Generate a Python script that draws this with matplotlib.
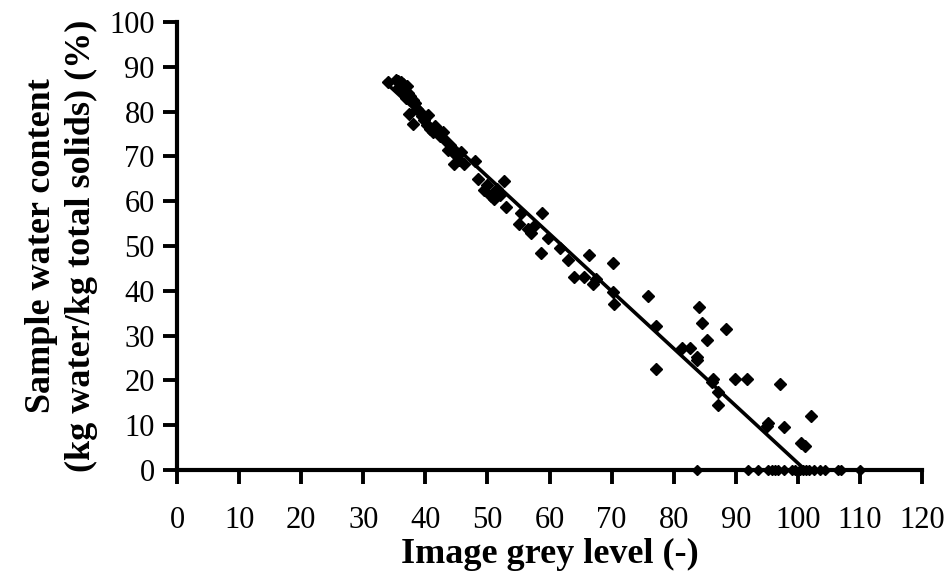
import matplotlib.pyplot as plt
import numpy as np

plt.rcParams['font.family'] = ['Liberation Serif', 'DejaVu Serif']

# measured samples (image grey level, water content %)
grey = [34.0, 35.2, 35.6, 36.0, 36.4, 35.8, 36.6, 37.0, 36.2, 37.2, 37.6, 36.8, 38.0, 38.4,
        37.3, 38.0, 38.6, 39.0, 39.4, 40.4, 39.8, 40.2, 40.8, 41.2, 41.6, 42.0, 42.4, 42.8,
        43.0, 43.6, 44.0, 44.4, 44.6, 45.0, 45.7, 46.2, 45.4, 48.0,
        48.5, 49.4, 50.0, 50.6, 51.0, 51.5, 52.0, 52.7, 53.0, 55.0, 55.4, 56.5, 57.0, 57.3,
        58.6, 58.8, 59.8, 61.7, 63.0, 64.0, 65.6, 66.4, 67.0, 67.5, 70.3, 70.3, 70.4, 75.9,
        77.2, 77.2, 81.3, 82.7, 83.7, 83.8, 84.0, 84.5, 85.3, 86.1, 86.4, 87.1, 87.2, 88.4,
        89.8, 91.8, 95.0, 95.2, 97.1, 97.7, 100.5, 101.1, 102.1]
water = [86.5, 87.0, 86.8, 86.5, 86.2, 85.5, 85.2, 85.8, 84.6, 84.2, 83.4, 83.0, 82.6, 81.8,
         79.5, 77.3, 80.6, 80.2, 79.0, 79.3, 78.0, 77.0, 76.2, 75.4, 76.8, 75.8, 74.6, 75.4,
         73.8, 71.5, 72.6, 71.0, 68.2, 70.4, 71.0, 68.2, 69.2, 69.0,
         65.0, 62.4, 63.6, 61.2, 60.4, 62.8, 61.4, 64.6, 58.7, 55.0, 57.3, 53.8, 53.0, 54.2,
         48.4, 57.3, 51.8, 49.5, 46.9, 43.0, 43.0, 48.0, 41.6, 42.6, 46.3, 39.8, 37.1, 38.9,
         32.2, 22.6, 27.3, 27.3, 25.3, 24.6, 36.4, 32.9, 29.1, 19.6, 20.4, 14.4, 17.3, 31.5,
         20.4, 20.2, 9.8, 10.4, 19.1, 9.6, 6.0, 5.3, 12.0]

# dry samples sitting on the axis
grey_dry = [83.7, 92.0, 93.5, 95.2, 95.8, 96.3, 96.8, 97.8, 99.0, 99.6, 100.4, 100.8,
            101.3, 101.8, 102.6, 103.5, 104.3, 106.5, 107.0, 110.0]
water_dry = [0.0] * len(grey_dry)

# fitted line end points
fit_x = [33.5, 101.2]
fit_y = [86.6, 0.0]

fig = plt.figure(figsize=(9.52, 5.76), dpi=100)
ax = fig.add_axes([0.186, 0.184, 0.7825, 0.778])

ax.plot(fit_x, fit_y, color='black', linewidth=2.6, zorder=2)
ax.plot(grey, water, linestyle='none', marker='D', markersize=6, color='black', zorder=3)
ax.plot(grey_dry, water_dry, linestyle='none', marker='D', markersize=5.5, color='black',
        zorder=4, clip_on=False)

ax.set_xlim(0, 120)
ax.set_ylim(0, 100)
ax.set_xticks(np.arange(0, 121, 10))
ax.set_yticks(np.arange(0, 101, 10))

for side in ['top', 'right']:
    ax.spines[side].set_visible(False)
for side in ['left', 'bottom']:
    ax.spines[side].set_linewidth(3)

ax.tick_params(direction='out', length=10, width=2.8, labelsize=22)
ax.tick_params(axis='x', pad=16)
ax.tick_params(axis='y', pad=6)

ax.set_xlabel('Image grey level (-)', fontsize=26, fontweight='bold', labelpad=2)
ax.set_ylabel('Sample water content\n(kg water/kg total solids) (%)', fontsize=26,
              fontweight='bold', linespacing=1.3, labelpad=8)

fig.savefig('out.png', dpi=100)
